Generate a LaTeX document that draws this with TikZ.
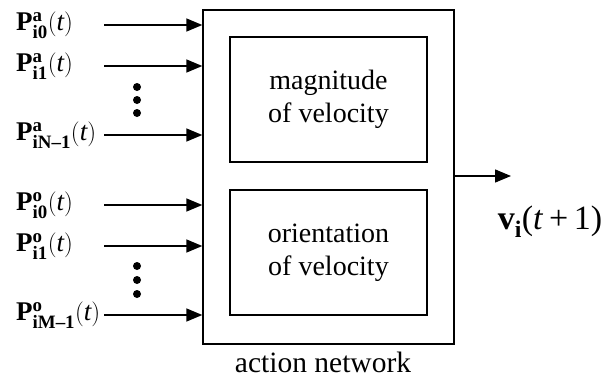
\documentclass[tikz,border=0pt]{standalone}
\usepackage{amsmath}
\usepackage{fontspec}
\setmainfont{Liberation Serif}
\usetikzlibrary{arrows.meta}
\begin{document}
\begin{tikzpicture}[x=1pt,y=-1pt,
  box/.style={draw,line width=1.4pt,inner sep=0pt},
  arr/.style={line width=1.5pt,-{Triangle[length=16pt,width=13pt]}},
  inlab/.style={font=\fontsize{27}{30}\selectfont,anchor=west,inner sep=0pt},
  txt/.style={font=\fontsize{28}{33}\selectfont,align=center},
  dot/.style={circle,fill,inner sep=0pt,minimum size=8pt}]
\useasboundingbox (0,0) rectangle (614,388);
% outer box
\node[box,minimum width=251pt,minimum height=334pt] (outer) at (328.5,177) {};
\node[box,minimum width=197pt,minimum height=125pt,txt] (mag) at (328.5,99.5) {magnitude\\of velocity};
\node[box,minimum width=197pt,minimum height=125pt,txt] (ori) at (328.5,252.5) {orientation\\of velocity};
\node[txt,font=\fontsize{29.5}{34}\selectfont] (an) at (323,362) {action network};
% inputs
\foreach \n/\y/\lab in {a0/25/{$\mathbf{P}^{\mathbf{a}}_{\mathbf{i0}}(\mathit{t})$},
                        a1/66/{$\mathbf{P}^{\mathbf{a}}_{\mathbf{i1}}(\mathit{t})$},
                        aN/135/{$\mathbf{P}^{\mathbf{a}}_{\text{\bfseries iN--1}}(\mathit{t})$},
                        o0/205/{$\mathbf{P}^{\mathbf{o}}_{\mathbf{i0}}(\mathit{t})$},
                        o1/246/{$\mathbf{P}^{\mathbf{o}}_{\mathbf{i1}}(\mathit{t})$},
                        oM/315/{$\mathbf{P}^{\mathbf{o}}_{\text{\bfseries iM--1}}(\mathit{t})$}}{
  \node[inlab] (l\n) at (16,\y) {\lab};
  \coordinate (s\n) at (104,\y);
  \draw[arr] (s\n) -- (s\n -| outer.west);
}
% dots
\foreach \n/\y in {d1/87,d2/100,d3/113,d4/266,d5/280,d6/294}{
  \node[dot] (\n) at (137,\y) {};
}
% output
\coordinate (oe) at (511,176);
\draw[arr] (oe -| outer.east) -- (oe);
\node[font=\fontsize{34}{38}\selectfont] (vout) at (550,222) {$\mathbf{v}_{\mathbf{i}}$(\textit{t}\,+\,1)};
\end{tikzpicture}
\end{document}
